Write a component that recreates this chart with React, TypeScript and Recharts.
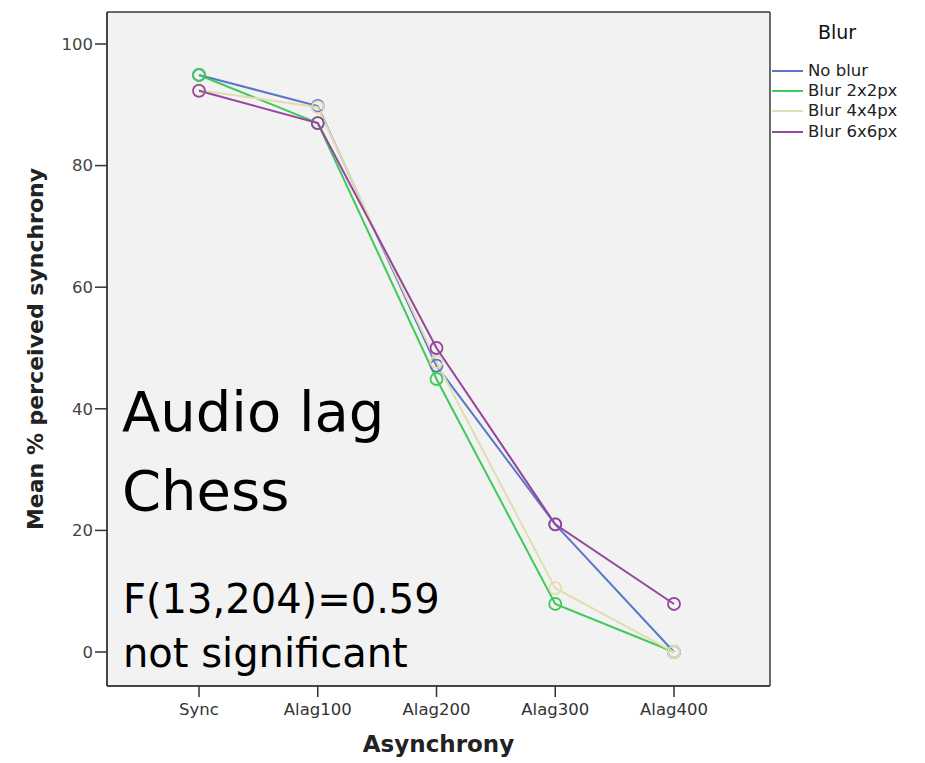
import React from 'react';
import { LineChart, Line, XAxis, YAxis, CartesianGrid } from 'recharts';

const categories = ['Sync', 'Alag100', 'Alag200', 'Alag300', 'Alag400'];
const noBlur = [94.9, 89.8, 47.1, 21.0, 0];
const blur2x2 = [94.9, 87.0, 44.9, 7.9, 0];
const blur4x4 = [92.4, 89.6, 47.7, 10.5, 0];
const blur6x6 = [92.3, 87.0, 50.0, 21.0, 7.9];
const yTicks = [0, 20, 40, 60, 80, 100];

const seriesNames = ['No blur', 'Blur 2x2px', 'Blur 4x4px', 'Blur 6x6px'];
const seriesKeys = ['noBlur', 'blur2x2', 'blur4x4', 'blur6x6'];
const seriesColors = ['#5a76c9', '#3fca5a', '#e2ddb2', '#94479c'];

const data = categories.map((c, i) => ({
  cat: c,
  noBlur: noBlur[i],
  blur2x2: blur2x2[i],
  blur4x4: blur4x4[i],
  blur6x6: blur6x6[i],
}));

const FONT = '"DejaVu Sans", Verdana, sans-serif';
const Y_MIN = -5.59;
const Y_MAX = 105.26;
const BORDER = '#3a3a3a';

const frameH = (p: any) => {
  const o = p && p.offset;
  if (!o) return [];
  return [o.top, o.top + o.height];
};
const frameV = (p: any) => {
  const o = p && p.offset;
  if (!o) return [];
  return [o.left, o.left + o.width];
};

const LegendBox = () => (
  <div style={{ position: 'absolute', left: 772, top: 20, width: 150, fontFamily: FONT, color: '#111' }}>
    <div style={{ fontSize: 19, height: 24, lineHeight: '24px', paddingLeft: 46 }}>Blur</div>
    <div style={{ height: 17 }} />
    {seriesNames.map((n, i) => (
      <div key={n} style={{ display: 'flex', alignItems: 'center', height: 20.2 }}>
        <svg width={36} height={20} style={{ display: 'block' }}>
          <line x1={0} y1={10} x2={31} y2={10} stroke={seriesColors[i]} strokeWidth={2} />
        </svg>
        <span style={{ fontSize: 16.5, lineHeight: '20px', color: '#222' }}>{n}</span>
      </div>
    ))}
  </div>
);

export default function App() {
  return (
    <div style={{ position: 'absolute', left: 0, top: 0, width: 925, height: 763, background: '#fff' }}>
      <LineChart
        width={925}
        height={763}
        data={data}
        margin={{ top: 12, right: 155, bottom: 0, left: 0 }}
      >
        <CartesianGrid
          fill="#f2f2f2"
          stroke={BORDER}
          strokeWidth={1.5}
          horizontalCoordinatesGenerator={frameH}
          verticalCoordinatesGenerator={frameV}
        />
        <XAxis
          dataKey="cat"
          type="category"
          padding={{ left: 92, right: 96 }}
          height={77}
          tickSize={11}
          tickMargin={6}
          axisLine={{ stroke: BORDER, strokeWidth: 1.5 }}
          tickLine={{ stroke: '#333', strokeWidth: 1.5 }}
          tick={{ fill: '#333', fontSize: 16.5, fontFamily: FONT }}
          label={{
            value: 'Asynchrony',
            position: 'insideBottom',
            offset: 11,
            style: { fontFamily: FONT, fontWeight: 'bold', fontSize: 23, fill: '#222' },
          }}
        />
        <YAxis
          type="number"
          domain={[Y_MIN, Y_MAX]}
          ticks={yTicks}
          allowDataOverflow
          width={107}
          tickSize={12}
          tickMargin={2}
          axisLine={{ stroke: BORDER, strokeWidth: 1.5 }}
          tickLine={{ stroke: '#333', strokeWidth: 1.5 }}
          tick={{ fill: '#444', fontSize: 16.5, fontFamily: FONT }}
          label={{
            value: 'Mean % perceived synchrony',
            angle: -90,
            position: 'insideLeft',
            offset: 35,
            style: { textAnchor: 'middle', fontFamily: FONT, fontWeight: 'bold', fontSize: 22, fill: '#222' },
          }}
        />
        {seriesKeys.map((k, i) => (
          <Line
            key={k}
            dataKey={k}
            name={seriesNames[i]}
            stroke={seriesColors[i]}
            strokeWidth={2}
            type="linear"
            dot={{ r: 6, fill: 'none', stroke: seriesColors[i], strokeWidth: 1.8 }}
            activeDot={false}
            isAnimationActive={false}
          />
        ))}
      </LineChart>
      <LegendBox />
      <svg
        width={925}
        height={763}
        style={{ position: 'absolute', left: 0, top: 0, pointerEvents: 'none' }}
      >
        <text x={122} y={431} fontFamily={FONT} fontSize={56} fill="#000">Audio lag</text>
        <text x={122} y={510} fontFamily={FONT} fontSize={56} fill="#000">Chess</text>
        <text x={123} y={613} fontFamily={FONT} fontSize={40} fill="#000">F(13,204)=0.59</text>
        <text x={123} y={667} fontFamily={FONT} fontSize={40} fill="#000">not significant</text>
      </svg>
    </div>
  );
}
